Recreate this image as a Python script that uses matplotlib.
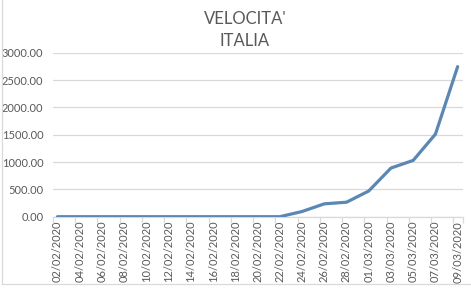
import matplotlib.pyplot as plt
from matplotlib.patches import Rectangle

plt.rcParams['font.family'] = ['Lato', 'DejaVu Sans']

# dates shown on the category axis (one point every two days)
dates = ['02/02/2020', '04/02/2020', '06/02/2020', '08/02/2020', '10/02/2020',
         '12/02/2020', '14/02/2020', '16/02/2020', '18/02/2020', '20/02/2020',
         '22/02/2020', '24/02/2020', '26/02/2020', '28/02/2020', '01/03/2020',
         '03/03/2020', '05/03/2020', '07/03/2020', '09/03/2020']
velocita = [0, 0, 0, 0, 0, 0, 0, 0, 0, 0,
            0, 95, 235, 265, 470, 890, 1030, 1510, 2745]

grey = '#d9d9d9'
text_col = '#595959'

fig = plt.figure(figsize=(4.71, 2.88), dpi=100)
ax = fig.add_axes([53 / 471, 1 - 216.7 / 288, 410 / 471, 164 / 288])

x = list(range(len(dates)))
ax.plot(x, velocita, color='#5b87b5', linewidth=2.3, solid_capstyle='round', zorder=3)

ax.set_ylim(0, 3000)
ax.set_yticks(range(0, 3001, 500))
ax.set_yticklabels(['%.2f' % v for v in range(0, 3001, 500)])
ax.set_xlim(-0.18, 18.24)
ax.set_xticks(x)
ax.set_xticklabels(dates, rotation=90)
# small tick marks sit between the categories, Excel style
ax.set_xticks([i - 0.2 for i in x] + [18.24], minor=True)

ax.grid(axis='y', color=grey, linewidth=0.9)
ax.set_axisbelow(True)
for side in ['top', 'right', 'left']:
    ax.spines[side].set_visible(False)
ax.spines['bottom'].set_color(grey)
ax.spines['bottom'].set_linewidth(0.9)

ax.tick_params(axis='y', length=0, pad=7, labelsize=8, labelcolor=text_col)
ax.tick_params(axis='x', which='major', length=0, pad=3, labelsize=8, labelcolor=text_col)
ax.tick_params(axis='x', which='minor', length=4, color=grey, width=0.9)

fig.text(245 / 471, 1 - 30 / 288, "VELOCITA'\nITALIA", ha='center', va='center',
         fontsize=12, color=text_col, linespacing=1.45)

# chart frame, cut off by the screenshot
fig.patches.append(Rectangle((2 / 471, 4 / 288), 480 / 471, 300 / 288,
                             transform=fig.transFigure, fill=False,
                             edgecolor=grey, linewidth=0.9))

fig.savefig('out.png', dpi=100)
